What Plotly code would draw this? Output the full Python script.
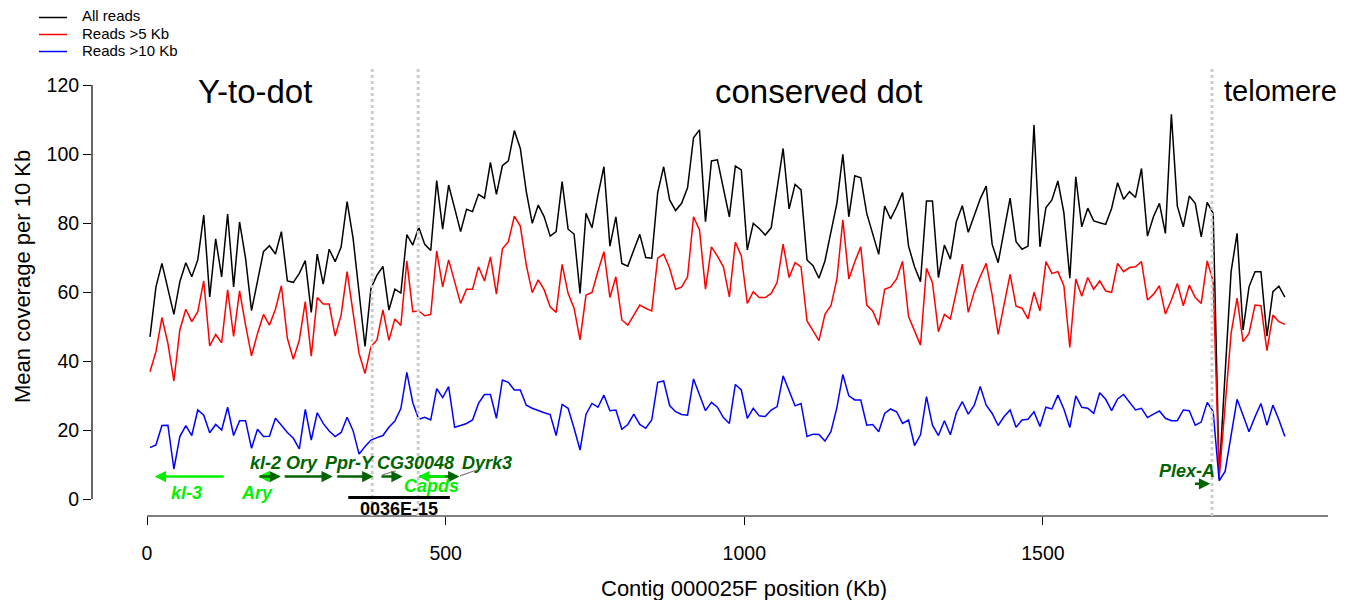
import plotly.graph_objects as go

# ---------------- data ----------------
positions = list(range(5, 1910, 10))  # bin centres (Kb)

black = [
    47.0, 61.5, 68.3, 61.1, 53.5, 63.0, 68.5, 64.4, 69.3, 82.3,
    58.6, 75.4, 64.4, 82.6, 61.5, 80.3, 69.8, 54.6, 63.0, 71.7,
    73.4, 71.0, 77.5, 63.2, 62.8, 65.4, 69.1, 54.1, 71.0, 62.3,
    72.4, 68.8, 73.0, 86.2, 75.6, 60.1, 44.2, 61.1, 64.9, 67.4,
    54.8, 60.8, 59.7, 76.6, 73.6, 78.8, 73.8, 72.0, 92.3, 78.2,
    91.0, 84.3, 77.5, 84.0, 83.3, 88.3, 87.2, 97.6, 88.3, 96.6,
    98.0, 106.8, 101.6, 89.1, 79.9, 85.2, 81.8, 76.2, 77.5, 92.0,
    78.2, 76.8, 59.6, 82.8, 78.6, 88.1, 96.3, 73.3, 81.8, 68.3,
    67.5, 72.2, 76.7, 70.0, 69.8, 88.8, 96.3, 86.7, 83.6, 85.7,
    90.2, 104.7, 107.0, 80.4, 98.0, 98.3, 89.6, 81.8, 96.5, 95.4,
    72.2, 79.9, 78.4, 76.5, 78.6, 89.6, 101.6, 84.1, 91.2, 89.6,
    69.3, 67.6, 64.0, 69.0, 77.5, 85.7, 99.9, 81.8, 93.7, 93.1,
    82.8, 76.5, 70.9, 84.9, 81.2, 84.7, 88.8, 73.3, 67.3, 63.0,
    86.4, 86.4, 64.2, 73.6, 69.5, 80.4, 85.0, 77.3, 82.1, 87.0,
    90.7, 73.8, 68.5, 77.7, 87.2, 74.6, 72.4, 73.3, 108.4, 73.1,
    84.5, 86.7, 92.2, 83.0, 64.0, 93.4, 78.9, 84.3, 80.6, 80.1,
    79.6, 84.3, 91.7, 86.9, 89.1, 87.4, 95.8, 76.2, 81.8, 85.7,
    77.0, 111.5, 84.9, 78.9, 87.8, 85.7, 76.0, 86.0, 82.8, 7.0,
    36.0, 65.9, 77.0, 49.0, 61.5, 65.9, 65.9, 47.2, 60.1, 61.7,
    58.5,
]

red = [
    36.9, 42.7, 52.6, 45.1, 34.2, 49.0, 55.0, 51.4, 54.3, 63.2,
    44.4, 47.7, 45.3, 60.6, 47.1, 60.3, 50.4, 41.5, 48.0, 53.5,
    50.4, 55.0, 61.8, 46.6, 40.5, 46.1, 57.2, 41.4, 58.4, 56.5,
    56.5, 47.2, 53.3, 65.9, 54.0, 42.2, 36.4, 44.2, 46.1, 54.8,
    46.0, 52.2, 50.3, 69.0, 54.3, 54.5, 53.1, 53.5, 71.9, 61.5,
    69.3, 62.8, 56.7, 60.8, 60.8, 67.3, 63.2, 70.2, 59.4, 72.5,
    74.6, 82.0, 79.1, 67.8, 59.8, 63.5, 60.6, 55.7, 54.1, 68.0,
    59.6, 55.3, 46.1, 59.1, 59.9, 66.0, 71.7, 58.4, 64.4, 51.9,
    50.4, 53.3, 56.2, 55.3, 54.5, 69.8, 71.0, 66.9, 60.8, 61.4,
    64.4, 81.8, 78.0, 60.8, 73.1, 70.4, 67.3, 58.6, 74.4, 70.5,
    56.7, 60.1, 58.4, 58.4, 59.6, 62.8, 73.9, 64.2, 68.5, 67.3,
    51.6, 48.8, 45.9, 53.5, 56.0, 63.7, 80.9, 63.8, 68.8, 73.1,
    56.2, 54.5, 50.4, 60.8, 61.5, 63.8, 68.9, 52.9, 48.8, 44.6,
    66.9, 62.7, 48.5, 53.5, 52.2, 60.1, 68.1, 54.1, 60.1, 64.5,
    68.3, 59.1, 47.7, 56.4, 65.1, 55.9, 55.3, 52.2, 59.9, 54.5,
    68.8, 65.4, 65.9, 61.8, 43.9, 63.8, 58.8, 64.2, 60.8, 63.2,
    60.3, 59.9, 68.3, 65.9, 67.1, 67.3, 68.8, 57.7, 59.3, 61.8,
    53.6, 57.7, 62.5, 56.0, 62.0, 58.4, 56.7, 69.0, 63.0, 6.0,
    27.0, 48.0, 58.2, 45.6, 48.0, 56.2, 56.0, 43.0, 53.3, 51.4,
    50.6,
]

blue = [
    14.9, 15.7, 21.3, 21.4, 8.7, 18.1, 21.3, 18.4, 25.8, 24.3,
    19.2, 21.6, 20.0, 26.6, 18.4, 22.7, 22.7, 14.7, 20.2, 18.1,
    18.2, 23.4, 21.4, 19.3, 17.6, 14.5, 26.0, 17.1, 25.0, 21.9,
    19.7, 18.1, 19.3, 23.7, 19.8, 13.0, 15.2, 17.1, 17.8, 18.4,
    20.8, 22.6, 26.2, 36.7, 27.9, 23.1, 23.7, 22.9, 32.0, 29.4,
    32.6, 20.8, 21.3, 21.9, 22.9, 27.7, 30.3, 30.3, 23.4, 34.5,
    33.8, 31.6, 31.6, 27.2, 26.3, 25.6, 25.0, 24.5, 18.4, 27.4,
    26.3, 20.5, 14.2, 24.6, 27.7, 26.6, 30.1, 25.6, 25.8, 20.2,
    21.6, 24.6, 21.6, 20.5, 22.9, 33.8, 34.2, 27.1, 25.3, 24.5,
    24.3, 34.8, 29.9, 25.6, 28.0, 26.6, 23.6, 21.9, 33.2, 31.6,
    23.4, 26.3, 24.1, 23.9, 25.8, 26.8, 35.7, 31.6, 27.0, 27.7,
    18.1, 18.8, 18.7, 16.8, 19.5, 26.5, 36.1, 29.9, 28.7, 28.7,
    21.4, 21.6, 19.5, 24.8, 26.1, 25.3, 21.9, 22.9, 15.5, 18.6,
    29.7, 21.4, 18.4, 22.7, 18.6, 25.0, 28.2, 24.6, 27.2, 32.6,
    27.2, 24.8, 21.3, 23.9, 25.8, 20.8, 22.9, 23.1, 25.3, 21.0,
    26.6, 26.1, 30.1, 26.1, 20.7, 29.9, 26.6, 26.3, 24.8, 30.8,
    28.9, 25.6, 29.0, 30.3, 28.2, 25.8, 26.3, 23.6, 24.6, 25.5,
    23.4, 22.7, 22.7, 25.8, 25.6, 21.4, 22.3, 28.0, 25.3, 5.3,
    8.0, 18.6, 28.9, 24.3, 19.5, 23.8, 27.7, 21.4, 27.2, 23.0,
    18.1,
]

series_names = ["All reads", "Reads >5 Kb", "Reads >10 Kb"]
series_colors = ["#000000", "#FF0000", "#0000FF"]

x_ticks = [0, 500, 1000, 1500]
y_ticks = [0, 20, 40, 60, 80, 100, 120]

boundaries = [377, 454, 1783]
regions = [("Y-to-dot", 181, 33), ("conserved dot", 1125, 33), ("telomere", 1897, 29)]

LIGHT = "#00F000"
DARK = "#006400"
# genes: (name, start, end, direction(+1 right / -1 left), y, colour)
gene_arrows = [
    ("kl-3", 13, 131, -1, 6.5, LIGHT),
    ("Ary", 186, 224, -1, 6.5, LIGHT),
    ("kl-2", 186, 224, 1, 6.5, DARK),
    ("Ory", 228, 311, 1, 6.5, DARK),
    ("Ppr-Y", 316, 379, 1, 6.5, DARK),
    ("CG30048", 390, 428, 1, 6.5, DARK),
    ("Dyrk3", 454, 523, 1, 6.5, DARK),
    ("Capds", 454, 502, -1, 6.5, LIGHT),
    ("Plex-A", 1752, 1780, 1, 4.4, DARK),
]
# gene labels: (name, x, y, colour)
gene_labels = [
    ("kl-3", 66, 1.8, LIGHT),
    ("Ary", 184, 1.7, LIGHT),
    ("kl-2", 198, 10.4, DARK),
    ("Ory", 259, 10.4, DARK),
    ("Ppr-Y", 340, 10.4, DARK),
    ("CG30048", 449, 10.4, DARK),
    ("Capds", 477, 3.8, LIGHT),
    ("Dyrk3", 570, 10.4, DARK),
    ("Plex-A", 1741, 8.2, DARK),
]
connectors = [(394, 7.0, 417, 8.2), (524, 6.7, 552, 8.4)]
scaffold = ("0036E-15", 337, 507, 0.4)

# ---------------- geometry ----------------
W, H = 1348, 600
ML, MR, MT, MB = 92, 20, 68, 84
PX_PER_KB = 0.5973
PX_PER_UNIT = 3.45
X0_PX, Y0_PX = 147, 499
pw, ph = W - ML - MR, H - MT - MB
x_range = [(ML - X0_PX) / PX_PER_KB, (W - MR - X0_PX) / PX_PER_KB]
y_range = [(Y0_PX - (H - MB)) / PX_PER_UNIT, (Y0_PX - MT) / PX_PER_UNIT]


def px_to_paper_x(px):
    return (px - ML) / pw


def px_to_paper_y(py):
    return (H - MB - py) / ph


FONT = "Liberation Sans, Arial, Helvetica, sans-serif"

fig = go.Figure()
for name, col, vals in zip(series_names, series_colors, [black, red, blue]):
    fig.add_trace(go.Scatter(x=positions, y=vals, mode="lines", name=name,
                             line=dict(color=col, width=1.5), showlegend=False))

shapes = []
annotations = []

# axis lines (R style detached axes)
shapes.append(dict(type="line", xref="x", yref="paper", x0=0, x1=x_range[1],
                   y0=0, y1=0, line=dict(color="black", width=1.2)))
shapes.append(dict(type="line", xref="paper", yref="y", x0=0, x1=0,
                   y0=0, y1=120, line=dict(color="black", width=1.2)))

# region boundaries
for b in boundaries:
    shapes.append(dict(type="line", xref="x", yref="paper", x0=b, x1=b, y0=0, y1=1,
                       line=dict(color="#CCCCCC", width=3, dash="dot"), layer="above"))

for text, xc, size in regions:
    annotations.append(dict(text=text, x=xc, y=px_to_paper_y(91), xref="x", yref="paper",
                            showarrow=False, xanchor="center", yanchor="middle",
                            font=dict(family=FONT, size=size, color="black")))

# gene arrows
for name, s, e, d, y, col in gene_arrows:
    tail, head = (s, e) if d > 0 else (e, s)
    annotations.append(dict(x=head, y=y, ax=tail, ay=y, xref="x", yref="y",
                            axref="x", ayref="y", text="", showarrow=True,
                            arrowhead=2, arrowsize=0.9, arrowwidth=2.5,
                            arrowcolor=col, standoff=0, startstandoff=0))

for name, x, y, col in gene_labels:
    annotations.append(dict(text="<b><i>%s</i></b>" % name, x=x, y=y, xref="x", yref="y",
                            showarrow=False, xanchor="center", yanchor="middle",
                            font=dict(family=FONT, size=18, color=col)))

for x0, y0, x1, y1 in connectors:
    shapes.append(dict(type="line", xref="x", yref="y", x0=x0, y0=y0, x1=x1, y1=y1,
                       line=dict(color="#808080", width=1.2)))

sname, s0, s1, sy = scaffold
shapes.append(dict(type="line", xref="x", yref="y", x0=s0, x1=s1, y0=sy, y1=sy,
                   line=dict(color="black", width=3)))
annotations.append(dict(text="<b>%s</b>" % sname, x=(s0 + s1) / 2, y=px_to_paper_y(508.5),
                        xref="x", yref="paper", showarrow=False, xanchor="center",
                        yanchor="middle", font=dict(family=FONT, size=18, color="black")))

# axis titles
annotations.append(dict(text="Contig 000025F position (Kb)", x=(743.5 - X0_PX) / PX_PER_KB,
                        y=px_to_paper_y(588), xref="x", yref="paper", showarrow=False,
                        xanchor="center", yanchor="middle",
                        font=dict(family=FONT, size=22, color="black")))
annotations.append(dict(text="Mean coverage per 10 Kb", x=px_to_paper_x(22),
                        y=(Y0_PX - 277) / PX_PER_UNIT, xref="paper", yref="y",
                        showarrow=False, textangle=-90, xanchor="center", yanchor="middle",
                        font=dict(family=FONT, size=22, color="black")))

# manual legend
leg_y = [16, 33, 50]
for name, col, ly in zip(series_names, series_colors, leg_y):
    shapes.append(dict(type="line", xref="paper", yref="paper",
                       x0=px_to_paper_x(39), x1=px_to_paper_x(67),
                       y0=px_to_paper_y(ly + 1.5), y1=px_to_paper_y(ly + 1.5),
                       line=dict(color=col, width=1.5)))
    annotations.append(dict(text=name, x=px_to_paper_x(80), y=px_to_paper_y(ly),
                            xref="paper", yref="paper", showarrow=False,
                            xanchor="left", yanchor="middle",
                            font=dict(family=FONT, size=15, color="black")))

fig.update_layout(
    width=W, height=H,
    margin=dict(l=ML, r=MR, t=MT, b=MB, pad=0),
    paper_bgcolor="white", plot_bgcolor="white",
    showlegend=False,
    shapes=shapes, annotations=annotations,
    font=dict(family=FONT, color="black"),
    xaxis=dict(range=x_range, tickvals=x_ticks, ticktext=[str(v) for v in x_ticks],
               ticks="outside", ticklen=8, tickwidth=1.2, tickcolor="black",
               ticklabelstandoff=12,
               showline=False, showgrid=False, zeroline=False,
               tickfont=dict(family=FONT, size=19.5, color="black"), fixedrange=True),
    yaxis=dict(range=y_range, tickvals=y_ticks, ticktext=[str(v) for v in y_ticks],
               ticks="outside", ticklen=8, tickwidth=1.2, tickcolor="black",
               showline=False, showgrid=False, zeroline=False,
               tickfont=dict(family=FONT, size=19.5, color="black"), fixedrange=True),
)

fig.write_html("out.html")
